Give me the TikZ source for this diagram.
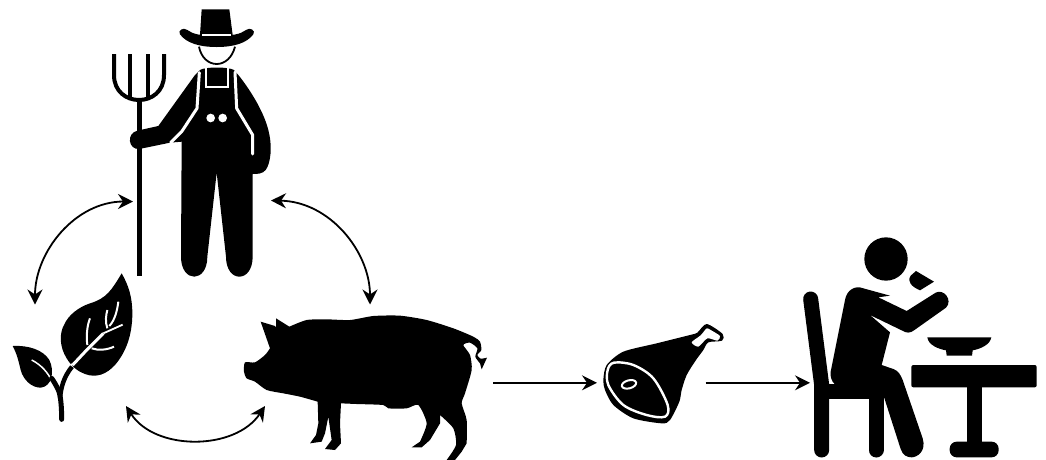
\documentclass[tikz,border=0pt]{standalone}
\usetikzlibrary{arrows.meta}
\tikzset{
  link/.style={draw=black,line width=1.8pt,{Stealth[length=15pt,width=15pt,inset=5pt]}-{Stealth[length=15pt,width=15pt,inset=5pt]}},
  oneway/.style={draw=black,line width=1.8pt,-{Stealth[length=15pt,width=15pt,inset=5pt]}},
  zoomA/.style={shift={(100,0)},scale=1/3},
  zoomB/.style={shift={(0,190)},scale=1/3},
  zoomC/.style={shift={(240,300)},scale=1/3},
  zoomD/.style={shift={(590,310)},scale=1/3},
  zoomE/.style={shift={(790,225)},scale=1/3},
  ink/.style={fill=black,draw=none},
  cut/.style={draw=white,line cap=round,line join=round},
  bar/.style={draw=black,line cap=round,line join=round}
}
\begin{document}
\begin{tikzpicture}[x=1pt,y=-1pt]
\useasboundingbox (0,0) rectangle (1046,459);
\clip (0,0) rectangle (1046,459);
% Farmer
\begin{scope}[zoomA]
 % hat
 \fill[ink] (305,28) -- (388,28) -- (398,105) -- (300,105) -- cycle;
 \fill[ink] (240,103) .. controls (232,92) and (250,80) .. (262,90)
   .. controls (280,103) and (300,107) .. (350,107)
   .. controls (400,107) and (420,103) .. (438,90)
   .. controls (450,80) and (468,92) .. (460,103)
   .. controls (440,130) and (400,141) .. (350,141)
   .. controls (300,141) and (260,130) .. (240,103) -- cycle;
 \draw[white,line width=1.8pt] (306,106) -- (394,106);
 % face
 \draw[black,line width=1.8pt] (297,140) .. controls (303,172) and (325,192) .. (350,192) .. controls (375,192) and (397,172) .. (405,140);
 % body
 \fill[ink] (300,210) .. controls (315,200) and (385,200) .. (402,210) -- (415,225)
   .. controls (445,262) and (490,330) .. (505,390)
   .. controls (518,440) and (512,490) .. (497,510)
   .. controls (488,522) and (470,522) .. (458,522)
   -- (458,770) .. controls (458,850) and (378,850) .. (378,770)
   -- (350,518) -- (322,770) .. controls (322,850) and (243,850) .. (243,770)
   -- (245,425) -- (210,428) -- (118,447)
   .. controls (85,450) and (78,400) .. (112,392)
   -- (175,378) -- (285,225) -- cycle;
 % overall straps
 \draw[cut,line width=3pt] (298,218) -- (291,325) -- (245,395) -- (212,428);
 \draw[cut,line width=3pt] (405,216) -- (410,325) -- (458,405) -- (458,462);
 \draw[white,line width=2.2pt] (318,205) -- (318,262) -- (384,262) -- (384,205);
 \fill[white] (332,354) circle[radius=13] (368,354) circle[radius=13];
 % fork
 \draw[black,line width=5pt] (117,300) -- (117,828);
 \draw[black,line width=4pt] (42,162) -- (42,225) .. controls (42,325) and (192,325) .. (192,225) -- (192,162);
 \draw[black,line width=4pt] (90,162) -- (90,300);
 \draw[black,line width=4pt] (145,162) -- (145,300);
\end{scope}
% Plant
\begin{scope}[zoomB]
 \fill[ink] (365,250) .. controls (385,285) and (397,320) .. (397,370)
   .. controls (397,440) and (375,490) .. (345,525)
   .. controls (320,552) and (290,565) .. (255,552)
   .. controls (235,545) and (215,530) .. (200,505)
   .. controls (178,470) and (178,430) .. (192,405)
   .. controls (205,375) and (235,352) .. (270,340)
   .. controls (320,325) and (335,300) .. (365,250) -- cycle;
 \fill[ink] (38,468) .. controls (85,465) and (130,480) .. (148,510)
   .. controls (165,545) and (155,590) .. (122,593)
   .. controls (95,593) and (70,570) .. (62,540)
   .. controls (55,510) and (50,490) .. (38,468) -- cycle;
 \draw[white,line width=1.5pt] (95,510) .. controls (125,525) and (145,550) .. (155,572);
 \draw[bar,line width=5pt] (185,688) .. controls (185,650) and (182,615) .. (175,600) .. controls (168,585) and (162,575) .. (155,565);
 \draw[white,line width=2pt,line cap=butt] (193,548) .. controls (200,538) and (208,530) .. (218,522);
 \draw[bar,line width=4.5pt,line cap=butt] (180,625) .. controls (183,590) and (192,560) .. (216,530);
 \draw[white,line width=3pt] (218,525) -- (262,478) -- (310,430);
 \draw[white,line width=1.8pt] (310,430) -- (368,404);
 \draw[white,line width=2pt] (262,465) .. controls (258,435) and (262,405) .. (270,385);
 \draw[white,line width=2pt] (275,475) .. controls (295,482) and (320,480) .. (342,470);
 \draw[white,line width=2pt] (322,415) .. controls (315,395) and (318,375) .. (322,360);
 \draw[white,line width=2pt] (328,408) .. controls (345,390) and (352,360) .. (355,335);
\end{scope}
% Pig
\begin{scope}[zoomC]
 \fill[ink] (62,65) -- (105,78) -- (108,82) -- (108,55) -- (148,80)
  -- plot[smooth,tension=0.4] coordinates {(148,80) (200,60) (260,58) (330,60) (400,48) (480,47) (560,60) (640,85) (700,110) (720,125) (724,150) (712,165) (722,176) (741,173)}
  -- (725,208) -- (720,190)
  -- plot[smooth,tension=0.4] coordinates {(720,190) (706,170) (712,145) (690,128) (670,135) (690,165) (695,210) (675,280) (665,310) (680,360) (680,430)}
  -- (665,455) -- (645,480) -- (620,480)
  -- plot[smooth,tension=0.4] coordinates {(620,480) (648,435) (640,385) (600,345)}
  -- (600,370) -- (570,420) -- (545,442) -- (515,442) -- (540,425)
  -- plot[smooth,tension=0.4] coordinates {(540,425) (560,370) (535,315) (500,325) (445,325) (430,315) (350,312) (303,310)}
  -- (300,370) -- (303,430) -- (285,450) -- (255,447) -- (275,420) -- (265,350) -- (255,400) -- (245,425) -- (210,430) -- (228,405) -- (235,370) -- (233,305)
  -- plot[smooth,tension=0.4] coordinates {(233,305) (180,290) (130,280) (80,270) (45,245) (20,235) (12,215) (15,187) (45,187) (75,165) (90,145)}
  -- cycle;
\end{scope}
% Ham
\begin{scope}[zoomD]
 \fill[ink] plot[smooth cycle,tension=0.45] coordinates {(40,210) (50,165) (100,125) (200,100) (300,75) (322,68) (350,42) (398,72) (396,92) (355,97) (340,120) (318,150) (290,195) (275,240) (268,275) (240,330) (215,340) (130,325) (70,285) (45,240)};
 \fill[white] plot[smooth cycle,tension=0.4] coordinates {(305,97) (332,76) (350,55) (362,60) (390,78) (382,92) (352,85) (325,110)};
 \draw[white,line width=2.4pt] plot[smooth cycle,tension=0.55] coordinates {(72,158) (130,165) (190,205) (233,285) (225,320) (170,315) (100,285) (55,225) (53,180)};
 \draw[white,line width=2pt,rotate around={15:(117,223)}] (117,223) ellipse[x radius=22,y radius=12];
\end{scope}
% Diner
\begin{scope}[zoomE]
 \fill[ink] (288,102) circle[radius=65];
 \fill[ink] (378,138) -- (432,170) -- (390,196) .. controls (365,185) and (350,170) .. (362,152) -- cycle;
 % chair
 \draw[bar,line width=15pt] (62,222) -- (95,480) -- (95,675);
 \draw[bar,line width=15pt] (258,500) -- (258,675);
 \fill[ink] (95,478) rectangle (258,523);
 % person
 \fill[ink] (122,440) -- (165,225) .. controls (170,195) and (195,180) .. (220,190)
   -- (300,212) -- (265,217) -- (350,258) -- (437,203)
   .. controls (460,190) and (490,225) .. (468,248)
   -- (372,316) .. controls (360,325) and (350,325) .. (335,316)
   -- (240,270) -- (300,322) -- (275,420) -- (310,432)
   .. controls (325,437) and (332,450) .. (338,465)
   -- (398,640) .. controls (410,680) and (380,697) .. (365,697)
   .. controls (350,697) and (338,690) .. (332,672)
   -- (280,510) -- (135,510) -- (135,478) .. controls (125,470) and (120,455) .. (122,440) -- cycle;
 % bowl and table
 \fill[ink] (412,337) -- (604,337) .. controls (600,360) and (570,372) .. (548,376)
   -- (546,392) -- (470,392) -- (468,376) .. controls (445,372) and (415,360) .. (412,337) -- cycle;
 \fill[ink,rounded corners=2pt] (364,420) rectangle (740,487);
 \fill[ink] (530,487) rectangle (577,660);
 \fill[ink,rounded corners=7pt] (479,650) rectangle (626,697);
\end{scope}
% connectors
\coordinate (farmerL) at (133,201.5);
\coordinate (plantT) at (35,304.5);
\coordinate (farmerR) at (271,200.5);
\coordinate (pigT) at (370,304.5);
\coordinate (plantB) at (126,406);
\coordinate (pigL) at (265,406);
\coordinate (pigR) at (493,382.8);
\coordinate (hamL) at (597,382.8);
\coordinate (hamR) at (705.5,382.8);
\coordinate (dinerL) at (810,382.8);
\draw[link] (plantT) .. controls (35,252) and (75,201.5) .. (farmerL);
\draw[link] (farmerR) .. controls (330,201.5) and (370,252) .. (pigT);
\draw[link] (plantB) .. controls (155,451) and (235,451) .. (pigL);
\draw[oneway] (pigR) -- (hamL);
\draw[oneway] (hamR) -- (dinerL);
\end{tikzpicture}
\end{document}
